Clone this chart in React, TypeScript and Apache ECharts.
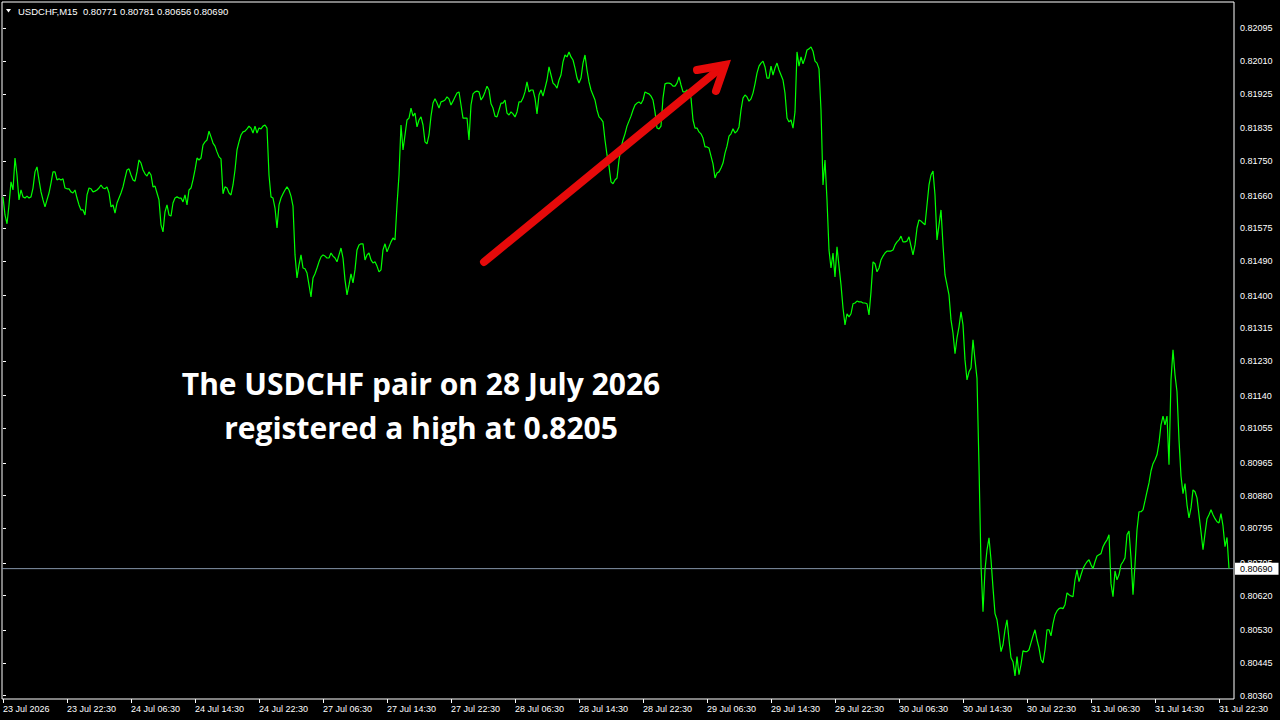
import React, { useEffect, useRef } from "react";
import * as echarts from "echarts";

// ---- data -------------------------------------------------------------
const symbolName = "USDCHF,M15";
const lastBarOHLC = [0.80771, 0.80781, 0.80656, 0.80690];

// M15 close prices, one per bar (bar 0 = first visible bar)
const closes = [
  0.81657, 0.81610, 0.81587, 0.81636, 0.81696, 0.81675, 0.81758, 0.81714, 0.81649, 0.81675,
  0.81657, 0.81654, 0.81659, 0.81654, 0.81657, 0.81680, 0.81722, 0.81735, 0.81701, 0.81670,
  0.81649, 0.81631, 0.81649, 0.81667, 0.81693, 0.81722, 0.81722, 0.81701, 0.81704, 0.81701,
  0.81704, 0.81680, 0.81678, 0.81678, 0.81670, 0.81667, 0.81675, 0.81654, 0.81636, 0.81623,
  0.81623, 0.81610, 0.81662, 0.81680, 0.81678, 0.81670, 0.81672, 0.81675, 0.81680, 0.81688,
  0.81680, 0.81678, 0.81683, 0.81667, 0.81631, 0.81636, 0.81615, 0.81641, 0.81654, 0.81667,
  0.81683, 0.81706, 0.81727, 0.81730, 0.81714, 0.81701, 0.81698, 0.81722, 0.81753, 0.81745,
  0.81727, 0.81717, 0.81711, 0.81722, 0.81714, 0.81683, 0.81685, 0.81667, 0.81649, 0.81584,
  0.81566, 0.81618, 0.81636, 0.81610, 0.81607, 0.81641, 0.81654, 0.81657, 0.81654, 0.81654,
  0.81644, 0.81662, 0.81636, 0.81675, 0.81680, 0.81701, 0.81727, 0.81758, 0.81753, 0.81758,
  0.81792, 0.81800, 0.81805, 0.81828, 0.81813, 0.81797, 0.81789, 0.81774, 0.81761, 0.81756,
  0.81665, 0.81683, 0.81680, 0.81667, 0.81662, 0.81688, 0.81727, 0.81779, 0.81800, 0.81818,
  0.81826, 0.81828, 0.81834, 0.81841, 0.81836, 0.81823, 0.81841, 0.81823, 0.81836, 0.81834,
  0.81841, 0.81844, 0.81836, 0.81714, 0.81657, 0.81654, 0.81628, 0.81576, 0.81636, 0.81654,
  0.81665, 0.81675, 0.81683, 0.81675, 0.81659, 0.81633, 0.81506, 0.81446, 0.81480, 0.81506,
  0.81472, 0.81470, 0.81459, 0.81428, 0.81397, 0.81446, 0.81457, 0.81472, 0.81488, 0.81501,
  0.81506, 0.81503, 0.81498, 0.81498, 0.81511, 0.81503, 0.81498, 0.81488, 0.81506, 0.81524,
  0.81498, 0.81441, 0.81402, 0.81428, 0.81457, 0.81433, 0.81467, 0.81519, 0.81532, 0.81535,
  0.81535, 0.81493, 0.81506, 0.81511, 0.81493, 0.81485, 0.81488, 0.81477, 0.81462, 0.81467,
  0.81519, 0.81535, 0.81514, 0.81527, 0.81540, 0.81550, 0.81545, 0.81636, 0.81714, 0.81844,
  0.81779, 0.81818, 0.81857, 0.81862, 0.81888, 0.81867, 0.81875, 0.81839, 0.81857, 0.81865,
  0.81844, 0.81800, 0.81795, 0.81818, 0.81867, 0.81901, 0.81912, 0.81901, 0.81888, 0.81904,
  0.81906, 0.81909, 0.81917, 0.81912, 0.81896, 0.81906, 0.81917, 0.81927, 0.81930, 0.81896,
  0.81862, 0.81862, 0.81862, 0.81805, 0.81896, 0.81925, 0.81930, 0.81932, 0.81930, 0.81909,
  0.81917, 0.81930, 0.81945, 0.81935, 0.81899, 0.81888, 0.81867, 0.81865, 0.81883, 0.81901,
  0.81901, 0.81909, 0.81875, 0.81870, 0.81878, 0.81873, 0.81865, 0.81878, 0.81904, 0.81904,
  0.81914, 0.81930, 0.81956, 0.81930, 0.81935, 0.81935, 0.81914, 0.81873, 0.81922, 0.81935,
  0.81919, 0.81940, 0.81961, 0.81995, 0.81974, 0.81953, 0.81948, 0.81940, 0.81961, 0.81974,
  0.82008, 0.82026, 0.82021, 0.82034, 0.82021, 0.82013, 0.81992, 0.81966, 0.81953, 0.81966,
  0.82005, 0.82026, 0.81987, 0.81956, 0.81935, 0.81922, 0.81909, 0.81883, 0.81865, 0.81860,
  0.81852, 0.81805, 0.81766, 0.81737, 0.81696, 0.81691, 0.81701, 0.81706, 0.81753, 0.81784,
  0.81805, 0.81821, 0.81841, 0.81854, 0.81867, 0.81883, 0.81896, 0.81901, 0.81904, 0.81899,
  0.81909, 0.81930, 0.81927, 0.81925, 0.81919, 0.81909, 0.81878, 0.81836, 0.81834, 0.81841,
  0.81914, 0.81951, 0.81953, 0.81953, 0.81951, 0.81945, 0.81945, 0.81953, 0.81969, 0.81948,
  0.81930, 0.81930, 0.81935, 0.81930, 0.81914, 0.81857, 0.81836, 0.81836, 0.81826, 0.81821,
  0.81810, 0.81787, 0.81787, 0.81784, 0.81763, 0.81743, 0.81706, 0.81719, 0.81722, 0.81732,
  0.81745, 0.81771, 0.81789, 0.81815, 0.81821, 0.81834, 0.81823, 0.81828, 0.81839, 0.81883,
  0.81914, 0.81922, 0.81917, 0.81906, 0.81912, 0.81927, 0.81951, 0.81979, 0.81997, 0.82005,
  0.82010, 0.81995, 0.81966, 0.81966, 0.81997, 0.81974, 0.81992, 0.82005, 0.81987, 0.81974,
  0.81961, 0.81927, 0.81862, 0.81852, 0.81857, 0.81836, 0.81878, 0.82034, 0.81997, 0.82021,
  0.82003, 0.82018, 0.82039, 0.82042, 0.82047, 0.82036, 0.82010, 0.82005, 0.81990, 0.81883,
  0.81688, 0.81753, 0.81649, 0.81519, 0.81472, 0.81511, 0.81449, 0.81527, 0.81477, 0.81428,
  0.81368, 0.81324, 0.81353, 0.81345, 0.81353, 0.81379, 0.81381, 0.81386, 0.81384, 0.81384,
  0.81381, 0.81381, 0.81379, 0.81350, 0.81410, 0.81488, 0.81483, 0.81462, 0.81472, 0.81493,
  0.81503, 0.81511, 0.81516, 0.81516, 0.81516, 0.81519, 0.81532, 0.81540, 0.81545, 0.81555,
  0.81540, 0.81540, 0.81542, 0.81553, 0.81529, 0.81506, 0.81532, 0.81576, 0.81597, 0.81594,
  0.81589, 0.81584, 0.81636, 0.81688, 0.81714, 0.81724, 0.81662, 0.81545, 0.81584, 0.81623,
  0.81532, 0.81454, 0.81428, 0.81402, 0.81337, 0.81303, 0.81249, 0.81290, 0.81319, 0.81358,
  0.81324, 0.81233, 0.81181, 0.81202, 0.81212, 0.81285, 0.81233, 0.81185, 0.80957, 0.80700,
  0.80578, 0.80687, 0.80739, 0.80770, 0.80713, 0.80640, 0.80573, 0.80557, 0.80518, 0.80474,
  0.80492, 0.80531, 0.80557, 0.80505, 0.80458, 0.80448, 0.80411, 0.80461, 0.80414, 0.80440,
  0.80476, 0.80474, 0.80474, 0.80479, 0.80497, 0.80515, 0.80531, 0.80505, 0.80484, 0.80453,
  0.80445, 0.80479, 0.80531, 0.80531, 0.80515, 0.80547, 0.80570, 0.80580, 0.80586, 0.80588,
  0.80586, 0.80596, 0.80627, 0.80622, 0.80619, 0.80617, 0.80661, 0.80687, 0.80656, 0.80674,
  0.80690, 0.80700, 0.80708, 0.80713, 0.80700, 0.80690, 0.80708, 0.80723, 0.80726, 0.80729,
  0.80747, 0.80757, 0.80765, 0.80778, 0.80651, 0.80617, 0.80684, 0.80661, 0.80674, 0.80700,
  0.80708, 0.80718, 0.80778, 0.80788, 0.80718, 0.80622, 0.80700, 0.80791, 0.80838, 0.80838,
  0.80843, 0.80866, 0.80890, 0.80913, 0.80944, 0.80963, 0.80973, 0.80986, 0.81017, 0.81064,
  0.81087, 0.81064, 0.81087, 0.80960, 0.81181, 0.81259, 0.81194, 0.81150, 0.81025, 0.80931,
  0.80885, 0.80911, 0.80856, 0.80822, 0.80848, 0.80895, 0.80890, 0.80874, 0.80830, 0.80786,
  0.80739, 0.80781, 0.80820, 0.80830, 0.80843, 0.80830, 0.80820, 0.80812, 0.80809, 0.80833,
  0.80801, 0.80747, 0.80771, 0.80690,
];

// time-axis labels, one every 32 bars (8 hours of M15 bars)
const xTickLabels = [
  "23 Jul 2026", "23 Jul 22:30", "24 Jul 06:30", "24 Jul 14:30", "24 Jul 22:30",
  "27 Jul 06:30", "27 Jul 14:30", "27 Jul 22:30", "28 Jul 06:30", "28 Jul 14:30",
  "28 Jul 22:30", "29 Jul 06:30", "29 Jul 14:30", "29 Jul 22:30", "30 Jul 06:30",
  "30 Jul 14:30", "30 Jul 22:30", "31 Jul 06:30", "31 Jul 14:30", "31 Jul 22:30",
];
const barsPerLabel = 32;

// price-axis tick labels
const yTickLabels = [
  "0.82095", "0.82010", "0.81925", "0.81835", "0.81750", "0.81660", "0.81575",
  "0.81490", "0.81400", "0.81315", "0.81230", "0.81140", "0.81055", "0.80965",
  "0.80880", "0.80795", "0.80705", "0.80620", "0.80530", "0.80445", "0.80360",
];

const annotationLines = [
  "The USDCHF pair on 28 July 2026",
  "registered a high at 0.8205",
];

// ---- layout / style ---------------------------------------------------
const W = 1280;
const H = 720;
const FONT = "'Liberation Sans', Arial, sans-serif";
const Y_MIN = 0.803509;
const Y_MAX = 0.821639;
const X_MIN = -0.5;
const X_MAX = 615.5;

export default function App() {
  const ref = useRef<HTMLDivElement>(null);

  useEffect(() => {
    if (!ref.current) return;
    const chart = echarts.init(ref.current, undefined, { renderer: "svg" });

    const seriesData = closes.map((v, i) => [i, v]);
    const xTickIdx = xTickLabels.map((_, k) => k * barsPerLabel);
    const yTickValues = yTickLabels.map((s) => Number(s));
    const lastPrice = closes[closes.length - 1];
    const headerText =
      symbolName + "  " + lastBarOHLC.map((v) => v.toFixed(5)).join(" ");

    const option: any = {
      animation: false,
      backgroundColor: "#000000",
      grid: {
        left: 2,
        top: 2,
        right: 46,
        bottom: 21,
        show: true,
        borderColor: "#ffffff",
        borderWidth: 1,
        backgroundColor: "transparent",
        containLabel: false,
        outerBoundsMode: "none",
      },
      xAxis: {
        type: "value",
        min: X_MIN,
        max: X_MAX,
        splitLine: { show: false },
        axisLine: { show: false },
        axisTick: {
          show: true,
          inside: false,
          length: 4,
          lineStyle: { color: "#ffffff", width: 1 },
          customValues: xTickIdx,
        },
        axisLabel: {
          show: true,
          customValues: xTickIdx,
          formatter: (v: number) => {
            const k = Math.round(v / barsPerLabel);
            return xTickLabels[k] ?? "";
          },
          color: "#ffffff",
          fontFamily: FONT,
          fontSize: 9,
          align: "left",
          margin: 5,
        },
      },
      yAxis: {
        type: "value",
        position: "right",
        min: Y_MIN,
        max: Y_MAX,
        splitLine: { show: false },
        axisLine: { show: false },
        axisTick: {
          show: true,
          inside: false,
          length: 3,
          lineStyle: { color: "#ffffff", width: 1 },
          customValues: yTickValues,
        },
        axisLabel: {
          show: true,
          customValues: yTickValues,
          formatter: (v: number) => v.toFixed(5),
          color: "#ffffff",
          fontFamily: FONT,
          fontSize: 9,
          margin: 6,
        },
      },
      series: [
        {
          // current (bid) price line with its price box
          type: "line",
          data: [
            [X_MIN, lastPrice],
            [X_MAX, lastPrice],
          ],
          showSymbol: false,
          symbol: "none",
          silent: true,
          z: 2,
          lineStyle: { color: "#8494a8", width: 1 },
          endLabel: {
            show: true,
            formatter: () => lastPrice.toFixed(5),
            distance: 1,
            color: "#000000",
            backgroundColor: "#ffffff",
            padding: [2, 6, 1, 5],
            fontFamily: FONT,
            fontSize: 9,
          },
        },
        {
          type: "line",
          data: seriesData,
          showSymbol: false,
          symbol: "none",
          silent: true,
          lineStyle: { color: "#00ff00", width: 1.2 },
          z: 3,
        },
      ],
      graphic: [
        {
          type: "polygon",
          z: 50,
          shape: { points: [[6, 9], [11, 9], [8.5, 12.5]] },
          style: { fill: "#ffffff" },
        },
        {
          type: "text",
          z: 50,
          x: 18,
          y: 11,
          style: {
            text: headerText,
            fill: "#ffffff",
            font: "9.5px " + FONT,
            align: "left",
            verticalAlign: "middle",
            textAlign: "left",
            textVerticalAlign: "middle",
          },
        },
        {
          type: "polyline",
          z: 60,
          shape: { points: [[484, 262], [723, 66]] },
          style: { stroke: "#e60a0a", lineWidth: 8, lineCap: "round", fill: null },
        },
        {
          type: "polyline",
          z: 60,
          shape: { points: [[697, 70], [725, 65], [716, 91]] },
          style: {
            stroke: "#e60a0a",
            lineWidth: 8,
            lineCap: "round",
            lineJoin: "miter",
            miterLimit: 10,
            fill: null,
          },
        },
        ...annotationLines.map((t, k) => ({
          type: "text",
          z: 60,
          x: 421,
          y: 383 + k * 44,
          style: {
            text: t,
            fill: "#ffffff",
            font: "bold 30px 'Open Sans', sans-serif",
            align: "center",
            verticalAlign: "middle",
            textAlign: "center",
            textVerticalAlign: "middle",
          },
        })),
      ],
    };

    chart.setOption(option);
    return () => chart.dispose();
  }, []);

  return (
    <div
      ref={ref}
      style={{
        position: "absolute",
        left: 0,
        top: 0,
        width: W,
        height: H,
        background: "#000000",
      }}
    />
  );
}
